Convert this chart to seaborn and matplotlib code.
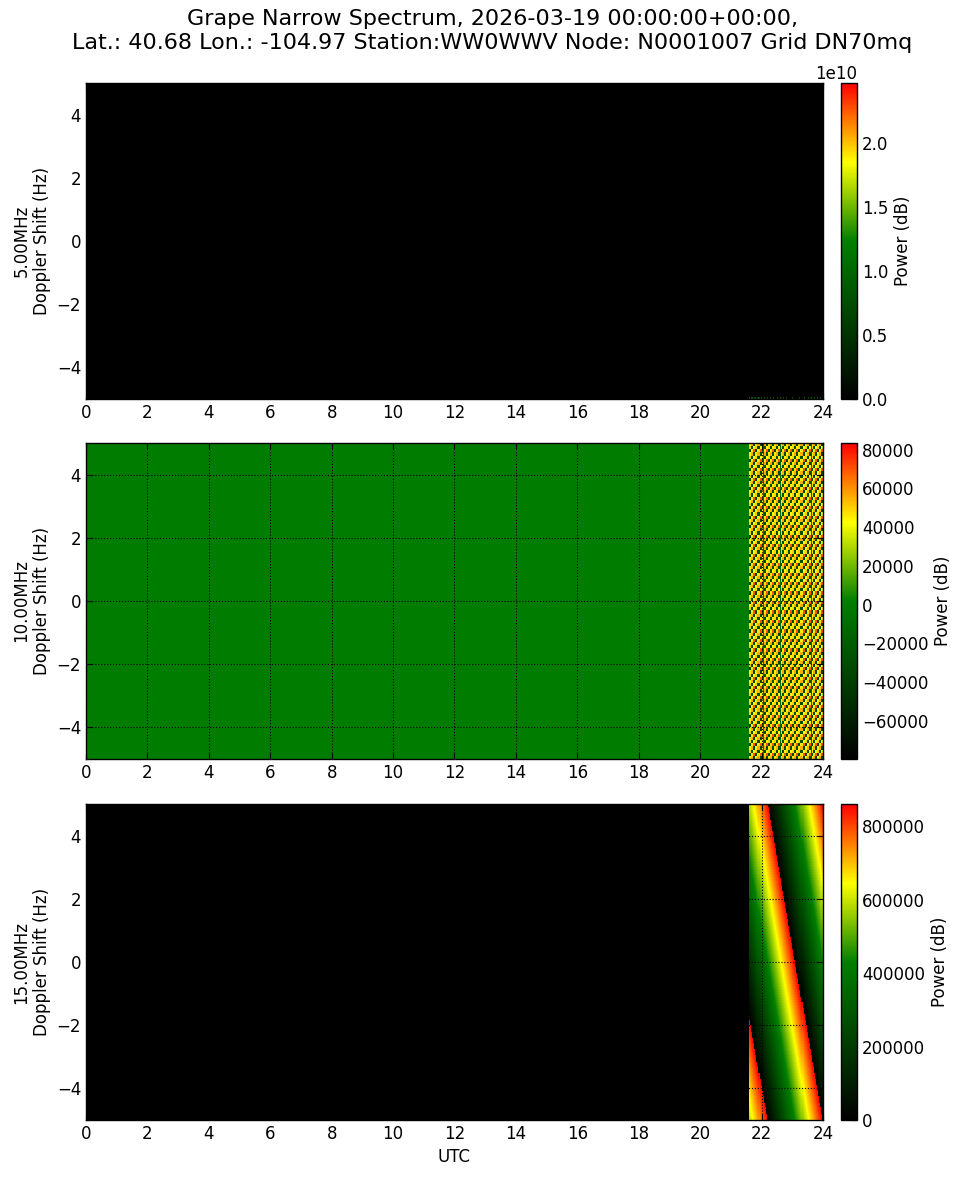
import numpy as np
import pandas as pd
import seaborn as sns
import matplotlib.pyplot as plt
from matplotlib.ticker import MultipleLocator

# spectrogram grid: 2-minute columns over the UTC day, 200 doppler rows (top row = +5 Hz)
hours = np.arange(720) * (2 / 60) + 1 / 60
doppler = np.linspace(5, -5, 200)
t_start = 21.6  # receiver data begins here, zeros before

title = ("Grape Narrow Spectrum, 2026-03-19 00:00:00+00:00,\n"
         "Lat.: 40.68 Lon.: -104.97 Station:WW0WWV Node: N0001007 Grid DN70mq")
bands = ["5.00MHz", "10.00MHz", "15.00MHz"]

# 5 MHz: a few weak bins on the lowest doppler row only
dots_5mhz_h = [21.63, 21.67, 21.70, 21.73, 21.77, 21.80, 21.83, 21.87, 21.90, 21.93,
               21.97, 22.00, 22.03, 22.07, 22.17, 22.27, 22.37, 22.50, 22.60, 22.70,
               22.83, 23.03, 23.26, 23.37, 23.50, 23.60, 23.70, 23.80, 23.90]
level_5mhz = 0.8e10
range_5mhz = (0.0, 2.47e10)

# 10 MHz: repeating speckle after t_start (in thousands), plus a few dimmer columns
tile_10mhz = [[45, 56, -32],
              [50, -30, 42],
              [-34, 46, 70]]
dim_cols_10mhz_h = [22.05, 22.60, 23.60]
range_10mhz = (-79800, 83500)

# 15 MHz: drifting ramp that wraps at these times on the +5 Hz and -5 Hz rows
wrap_top_h = 22.2
wrap_bottom_h = 23.98
wrap_period_h = 1.8
range_15mhz = (0.0, 860000)

T, F = np.meshgrid(hours, doppler)
before = T < t_start

p5 = np.zeros_like(T)
p5[-1, [int(h * 30) for h in dots_5mhz_h]] = level_5mhz

tile = np.kron(np.array(tile_10mhz) * 1000.0, np.ones((2, 2)))
p10 = np.tile(tile, (len(doppler) // 6 + 1, len(hours) // 6 + 1))[:len(doppler), :len(hours)]
for h in dim_cols_10mhz_h:
    p10[:, int(h * 30)] = -10000
p10[before] = 0

wrap = wrap_top_h + (wrap_bottom_h - wrap_top_h) * (5 - F) / 10
p15 = range_15mhz[1] * (((T - wrap) / wrap_period_h) % 1)
p15[before] = 0

sns.set_style("ticks")
plt.rcParams.update({
    "font.family": ["DejaVu Sans"],
    "font.size": 12,
    "axes.labelsize": 12,
    "xtick.labelsize": 12,
    "ytick.labelsize": 12,
    "axes.edgecolor": "black",
    "xtick.color": "black",
    "ytick.color": "black",
    "text.color": "black",
    "axes.labelcolor": "black",
})

cmap = sns.blend_palette(["black", "#004000", "green", "yellow", "red"], as_cmap=True)

fig = plt.figure(figsize=(9.63, 11.78), dpi=100)
fig.suptitle(title, x=0.511, y=0.992, va="top", fontsize=16, linespacing=1.2)

bottoms = [0.6613, 0.3557, 0.0492]
panels = [(p5, range_5mhz, 0.5e10), (p10, range_10mhz, 20000), (p15, range_15mhz, 200000)]

for i, (data, (lo, hi), step) in enumerate(panels):
    ax = fig.add_axes([0.0893, bottoms[i], 0.7653, 0.2683])
    cax = fig.add_axes([0.8733, bottoms[i], 0.0166, 0.2683])
    df = pd.DataFrame(data, index=doppler, columns=hours)
    sns.heatmap(df, ax=ax, cbar_ax=cax, cmap=cmap, vmin=lo, vmax=hi,
                xticklabels=False, yticklabels=False,
                cbar_kws={"label": "Power (dB)"})

    xt = np.arange(0, 25, 2)
    ax.set_xticks(xt * 30)
    ax.set_xticklabels([str(v) for v in xt], rotation=0)
    yt = np.array([-4, -2, 0, 2, 4])
    ax.set_yticks((5 - yt) * 20)
    ax.set_yticklabels([str(v).replace("-", "\u2212") for v in yt], rotation=0)
    ax.tick_params(direction="in", top=True, right=True, length=4, width=0.8)
    for sp in ax.spines.values():
        sp.set_visible(True)
        sp.set_color("black")
        sp.set_linewidth(1)
    ax.grid(True, color="black", linestyle=":", linewidth=0.8)
    ax.set_axisbelow(False)
    ax.set_ylabel(f"{bands[i]}\nDoppler Shift (Hz)")
    ax.set_xlabel("UTC" if i == 2 else "")

    cb = ax.collections[0].colorbar
    cb.locator = MultipleLocator(step)
    cb.update_ticks()
    cb.outline.set_linewidth(1)
    cb.outline.set_edgecolor("black")
    cax.tick_params(direction="in", length=4, width=0.8)

fig.savefig("out.png", dpi=100)
